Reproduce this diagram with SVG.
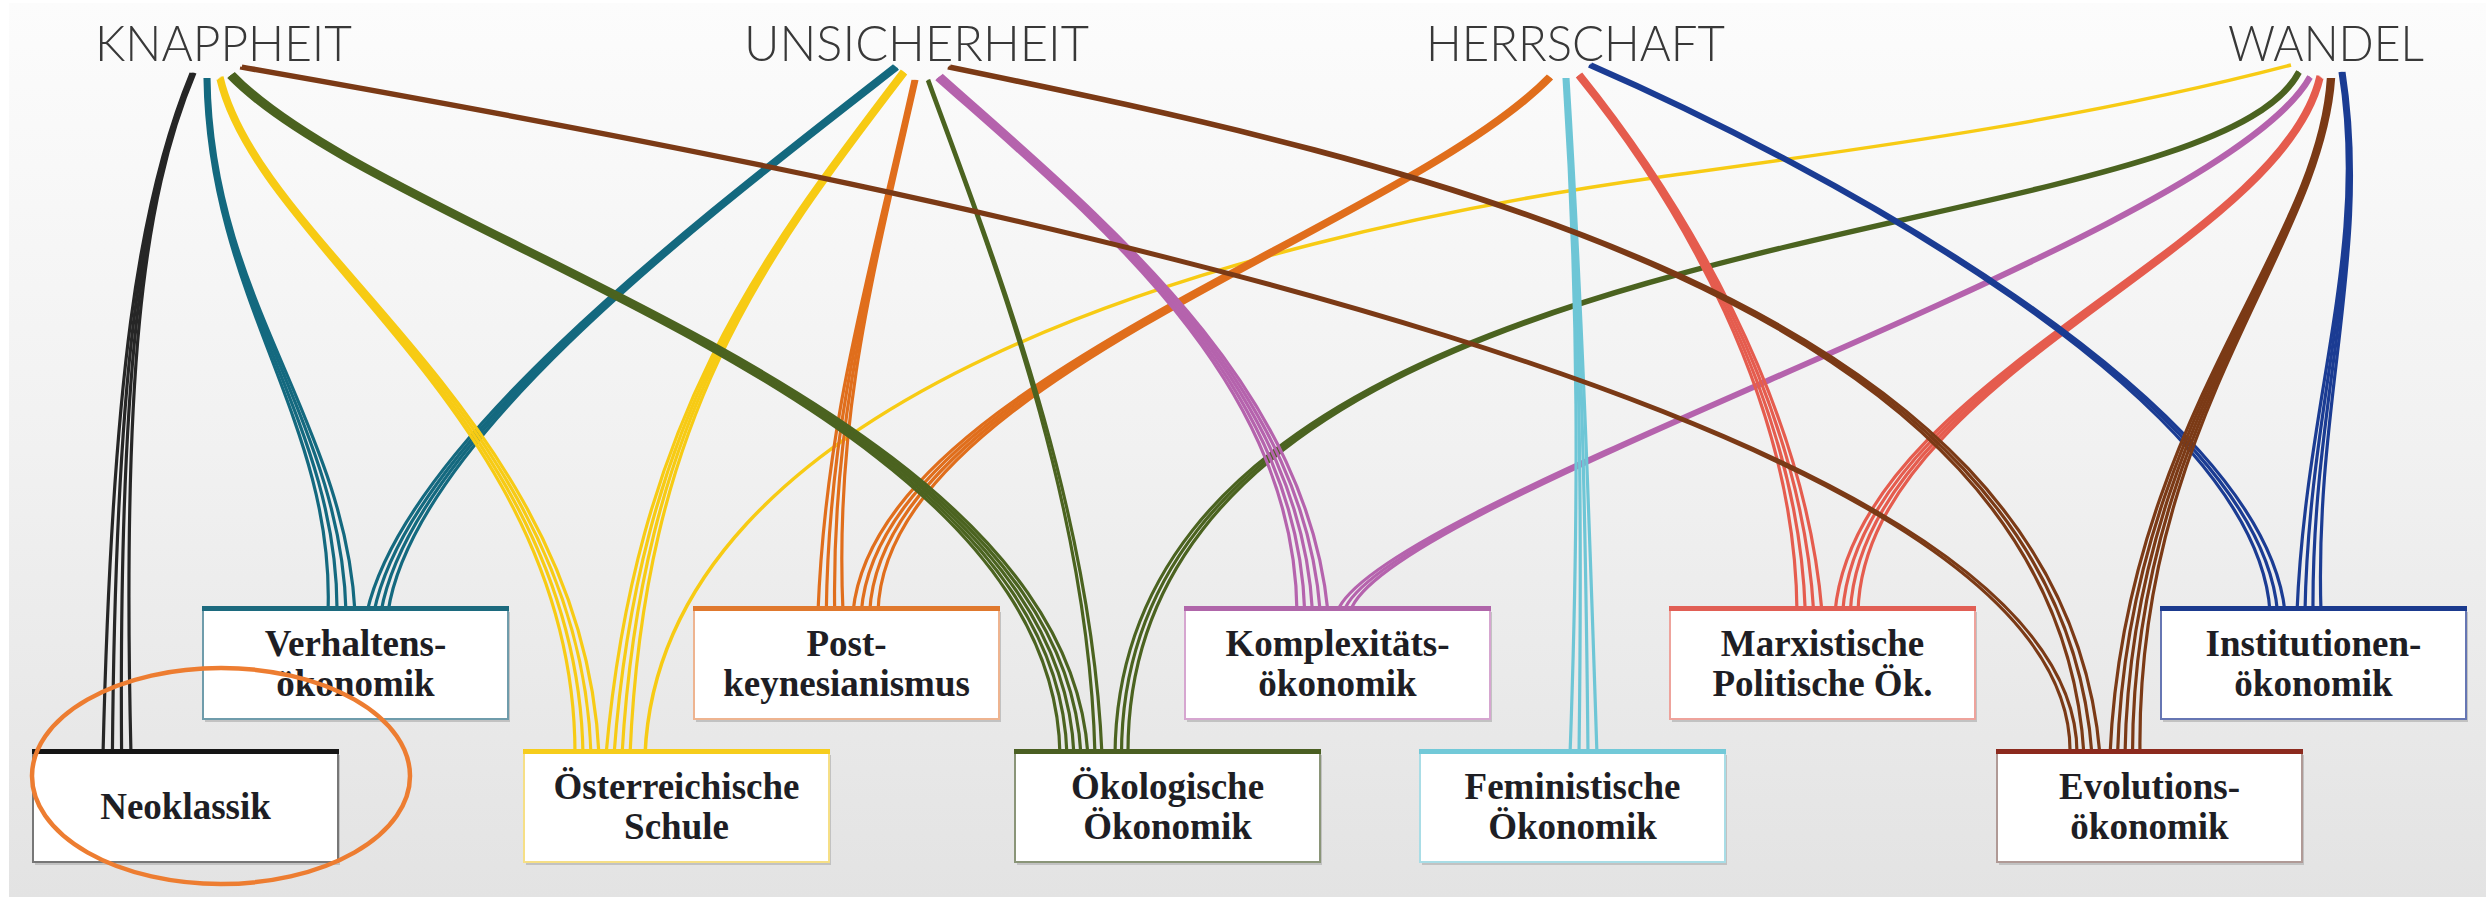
<svg xmlns="http://www.w3.org/2000/svg" width="2486" height="900" viewBox="0 0 2486 900">
<defs>
<linearGradient id="bg" x1="0" y1="0" x2="0" y2="1">
<stop offset="0" stop-color="#fcfcfc"/>
<stop offset="0.5" stop-color="#f1f1f1"/>
<stop offset="1" stop-color="#e3e3e3"/>
</linearGradient>
<style>
.cat{font-family:Lato,"Open Sans","Liberation Sans",sans-serif;font-weight:300;font-size:50px;fill:#383838}
.lbl{font-family:"Liberation Serif","DejaVu Serif",serif;font-weight:bold;font-size:37px;fill:#1e1e24;text-anchor:middle}
.s{fill:none;stroke-width:3.2;stroke-linecap:butt}
.k{stroke:#262626}.te{stroke:#14697f}.ye{stroke:#f7cb14}.ol{stroke:#4b6320}.br{stroke:#7b3a16}
.or{stroke:#e06e1c}.pu{stroke:#b563ad}.cy{stroke:#6ec6d6}.re{stroke:#e55c4e}.bl{stroke:#1b3c93}
.sh{fill:#c2c2c2}
.box{fill:#ffffff;stroke-width:2}
</style>
</defs>
<rect x="0" y="0" width="2486" height="900" fill="#ffffff"/>
<rect x="9" y="3" width="2477" height="894" fill="url(#bg)"/>

<g id="categories">
<text class="cat" x="95" y="61" textLength="257" lengthAdjust="spacingAndGlyphs">KNAPPHEIT</text>
<text class="cat" x="744" y="61" textLength="345" lengthAdjust="spacingAndGlyphs">UNSICHERHEIT</text>
<text class="cat" x="1426" y="61" textLength="299" lengthAdjust="spacingAndGlyphs">HERRSCHAFT</text>
<text class="cat" x="2228" y="61" textLength="196" lengthAdjust="spacingAndGlyphs">WANDEL</text>
</g>

<g id="connectors">
<g class="s k">
<path d="M191.05 73 C138.5 200 112.1 380 103 755"/>
<path d="M192.35 73 C139.5 200 115.4 380 112.4 755"/>
<path d="M193.65 73 C140.5 200 118.6 380 121.6 755"/>
<path d="M194.95 73 C141.5 200 121.9 380 131 755"/>
</g>
<g class="s te">
<path d="M205.05 78 C208.5 300 335.3 420 328 612"/>
<path d="M206.35 78 C209.5 300 338.4 420 337 612"/>
<path d="M207.65 78 C210.5 300 341.6 420 346 612"/>
<path d="M208.95 78 C211.5 300 344.7 420 355 612"/>
<path d="M894.05 65.5 C698.5 218.5 406.3 440 367 612"/>
<path d="M895.35 66.5 C699.5 219.5 408.8 440 374 612"/>
<path d="M896.65 67.5 C700.5 220.5 411.2 440 381 612"/>
<path d="M897.95 68.5 C701.5 221.5 413.7 440 388 612"/>
</g>
<g class="s ye">
<path d="M218.05 79.5 C258.5 251.5 575.8 420 575 755"/>
<path d="M219.35 78.5 C259.5 250.5 578.6 420 583 755"/>
<path d="M220.65 77.5 C260.5 249.5 581.4 420 591 755"/>
<path d="M221.95 76.5 C261.5 248.5 584.2 420 599 755"/>
<path d="M902.05 70.5 C758.5 258.5 635.8 420 606 755"/>
<path d="M903.35 71.5 C759.5 259.5 638.6 420 614 755"/>
<path d="M904.65 72.5 C760.5 260.5 641.4 420 622 755"/>
<path d="M905.95 73.5 C761.5 261.5 644.2 420 630 755"/>
<path d="M2291 65 C2081 120 1870 148 1660 177 C1210 240 660 400 645 755" stroke-width="3.5"/>
</g>
<g class="s or">
<path d="M913.05 80 C868.5 280 825.6 420 818 612"/>
<path d="M914.35 80 C869.5 280 828.5 420 826.3 612"/>
<path d="M915.65 80 C870.5 280 831.5 420 834.7 612"/>
<path d="M916.95 80 C871.5 280 834.4 420 843 612"/>
<path d="M1548.05 75.5 C1398.5 228.5 875.6 380 853 612"/>
<path d="M1549.35 76.5 C1399.5 229.5 878.5 380 861.3 612"/>
<path d="M1550.65 77.5 C1400.5 230.5 881.5 380 869.7 612"/>
<path d="M1551.95 78.5 C1401.5 231.5 884.4 380 878 612"/>
</g>
<g class="s ol">
<path d="M228.4 77 C388 242 1055.1 400 1060 755"/>
<path d="M229.7 76 C389 241 1057.55 400 1067 755"/>
<path d="M231 75 C390 240 1060 400 1074 755"/>
<path d="M232.3 74 C391 239 1062.45 400 1081 755"/>
<path d="M233.6 73 C392 238 1064.9 400 1088 755"/>
<path d="M927.35 80.5 C989.5 250.5 1088.8 500 1095 755"/>
<path d="M928.65 79.5 C990.5 249.5 1091.2 500 1102 755"/>
<path d="M2297.7 71 C2199 259 1118.7 200 1115 755"/>
<path d="M2299 72 C2200 260 1121 200 1121.5 755"/>
<path d="M2300.3 73 C2201 261 1123.3 200 1128 755"/>
</g>
<g class="s pu">
<path d="M936.4 79 C1098 222 1294.6 380 1297 612"/>
<path d="M937.7 78 C1099 221 1297.3 380 1304.75 612"/>
<path d="M939 77 C1100 220 1300 380 1312.5 612"/>
<path d="M940.3 76 C1101 219 1302.7 380 1320.25 612"/>
<path d="M941.6 75 C1102 218 1305.4 380 1328 612"/>
<path d="M2308.7 76 C2219 239 1377.7 500 1337 612"/>
<path d="M2310 77 C2220 240 1380 500 1343.5 612"/>
<path d="M2311.3 78 C2221 241 1382.3 500 1350 612"/>
</g>
<g class="s cy">
<path d="M1564.05 78 C1578.5 300 1579.3 500 1570 755"/>
<path d="M1565.35 78 C1579.5 300 1582.4 500 1579 755"/>
<path d="M1566.65 78 C1580.5 300 1585.6 500 1588 755"/>
<path d="M1567.95 78 C1581.5 300 1588.7 500 1597 755"/>
</g>
<g class="s re">
<path d="M1577.05 76.5 C1678.5 201.5 1795.6 400 1797 612"/>
<path d="M1578.35 75.5 C1679.5 200.5 1798.5 400 1805.3 612"/>
<path d="M1579.65 74.5 C1680.5 199.5 1801.5 400 1813.7 612"/>
<path d="M1580.95 73.5 C1681.5 198.5 1804.4 400 1822 612"/>
<path d="M2318.05 75.5 C2278.5 248.5 1855.95 380 1835 612"/>
<path d="M2319.35 76.5 C2279.5 249.5 1858.65 380 1842.7 612"/>
<path d="M2320.65 77.5 C2280.5 250.5 1861.35 380 1850.3 612"/>
<path d="M2321.95 78.5 C2281.5 251.5 1864.05 380 1858 612"/>
</g>
<g class="s bl">
<path d="M1588.7 66 C1819 166 2257.4 400 2270 612"/>
<path d="M1590 65 C1820 165 2260 400 2277.5 612"/>
<path d="M1591.3 64 C1821 164 2262.6 400 2285 612"/>
<path d="M2340.05 72 C2368.5 250 2305.8 400 2297 612"/>
<path d="M2341.35 72 C2369.5 250 2308.6 400 2305 612"/>
<path d="M2342.65 72 C2370.5 250 2311.4 400 2313 612"/>
<path d="M2343.95 72 C2371.5 250 2314.2 400 2321 612"/>
</g>
<g class="s br">
<path d="M240 68 C999.5 201 2078.8 420 2070 755"/>
<path d="M242 66 C1000.5 199 2081.2 420 2077 755"/>
<path d="M947.7 68 C1399 161 2057.2 300 2084 755"/>
<path d="M949 67 C1400 160 2060 300 2092 755"/>
<path d="M950.3 66 C1401 159 2062.8 300 2100 755"/>
<path d="M2328.4 78 C2318 250 2124.8 420 2110 755"/>
<path d="M2329.7 78 C2319 250 2127.4 420 2117.5 755"/>
<path d="M2331 78 C2320 250 2130 420 2125 755"/>
<path d="M2332.3 78 C2321 250 2132.6 420 2132.5 755"/>
<path d="M2333.6 78 C2322 250 2135.2 420 2140 755"/>
</g>
</g>

<g id="node-neoklassik">
<rect class="sh" x="35" y="755" width="305" height="110"/>
<rect class="box" x="33" y="752" width="305" height="110" stroke="#777777"/>
<rect x="32" y="749" width="307" height="5" fill="#151515"/>
<text class="lbl" x="185.5" y="819">Neoklassik</text>
</g>
<g id="node-verhaltens">
<rect class="sh" x="205" y="612" width="305" height="110"/>
<rect class="box" x="203" y="609" width="305" height="110" stroke="#6f9cab"/>
<rect x="202" y="606" width="307" height="5" fill="#1c6a7e"/>
<text class="lbl" x="355.5" y="656">Verhaltens-</text>
<text class="lbl" x="355.5" y="696">ökonomik</text>
</g>
<g id="node-postkeynesianismus">
<rect class="sh" x="696" y="612" width="305" height="110"/>
<rect class="box" x="694" y="609" width="305" height="110" stroke="#eeb490"/>
<rect x="693" y="606" width="307" height="5" fill="#e0792e"/>
<text class="lbl" x="846.5" y="656">Post-</text>
<text class="lbl" x="846.5" y="696">keynesianismus</text>
</g>
<g id="node-komplexitaet">
<rect class="sh" x="1187" y="612" width="305" height="110"/>
<rect class="box" x="1185" y="609" width="305" height="110" stroke="#d6a6d0"/>
<rect x="1184" y="606" width="307" height="5" fill="#b066aa"/>
<text class="lbl" x="1337.5" y="656">Komplexitäts-</text>
<text class="lbl" x="1337.5" y="696">ökonomik</text>
</g>
<g id="node-marxistische">
<rect class="sh" x="1672" y="612" width="305" height="110"/>
<rect class="box" x="1670" y="609" width="305" height="110" stroke="#eea39c"/>
<rect x="1669" y="606" width="307" height="5" fill="#e15f55"/>
<text class="lbl" x="1822.5" y="656">Marxistische</text>
<text class="lbl" x="1822.5" y="696">Politische Ök.</text>
</g>
<g id="node-institutionen">
<rect class="sh" x="2163" y="612" width="305" height="110"/>
<rect class="box" x="2161" y="609" width="305" height="110" stroke="#6676b3"/>
<rect x="2160" y="606" width="307" height="5" fill="#1b3a8e"/>
<text class="lbl" x="2313.5" y="656">Institutionen-</text>
<text class="lbl" x="2313.5" y="696">ökonomik</text>
</g>
<g id="node-oesterreichische">
<rect class="sh" x="526" y="755" width="305" height="110"/>
<rect class="box" x="524" y="752" width="305" height="110" stroke="#f6df86"/>
<rect x="523" y="749" width="307" height="5" fill="#f6cd1c"/>
<text class="lbl" x="676.5" y="799">Österreichische</text>
<text class="lbl" x="676.5" y="839">Schule</text>
</g>
<g id="node-oekologische">
<rect class="sh" x="1017" y="755" width="305" height="110"/>
<rect class="box" x="1015" y="752" width="305" height="110" stroke="#8a9578"/>
<rect x="1014" y="749" width="307" height="5" fill="#4a5f22"/>
<text class="lbl" x="1167.5" y="799">Ökologische</text>
<text class="lbl" x="1167.5" y="839">Ökonomik</text>
</g>
<g id="node-feministische">
<rect class="sh" x="1422" y="755" width="305" height="110"/>
<rect class="box" x="1420" y="752" width="305" height="110" stroke="#a9dde6"/>
<rect x="1419" y="749" width="307" height="5" fill="#72c9d8"/>
<text class="lbl" x="1572.5" y="799">Feministische</text>
<text class="lbl" x="1572.5" y="839">Ökonomik</text>
</g>
<g id="node-evolution">
<rect class="sh" x="1999" y="755" width="305" height="110"/>
<rect class="box" x="1997" y="752" width="305" height="110" stroke="#b09a96"/>
<rect x="1996" y="749" width="307" height="5" fill="#8c2a1e"/>
<text class="lbl" x="2149.5" y="799">Evolutions-</text>
<text class="lbl" x="2149.5" y="839">ökonomik</text>
</g>

<g id="highlight">
<ellipse cx="221" cy="776" rx="189" ry="108" fill="none" stroke="#ed7d31" stroke-width="4.5"/>
</g>
</svg>
